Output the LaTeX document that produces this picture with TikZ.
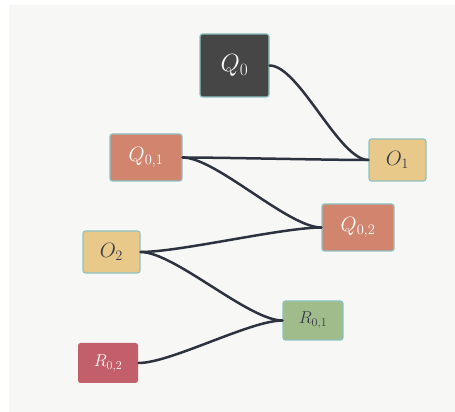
\documentclass[tikz,border=0pt]{standalone}
\usepackage{amsmath}
\definecolor{bgpaper}{HTML}{F7F7F5}
\definecolor{edgeteal}{HTML}{8EC2C2}
\definecolor{qdark}{HTML}{464646}
\definecolor{qsalmon}{HTML}{D1856F}
\definecolor{oyellow}{HTML}{E9C98A}
\definecolor{rgreen}{HTML}{A1BC8B}
\definecolor{rred}{HTML}{C25F6A}
\definecolor{wire}{HTML}{2D3240}
\definecolor{inkdark}{HTML}{3A3A48}
\tikzset{
  box/.style={draw=edgeteal,line width=1.2pt,rounded corners=2.5pt,inner sep=0pt,anchor=center},
  rootbox/.style={box,fill=qdark,text=white,minimum width=69pt,minimum height=63pt,font=\fontsize{26}{28}\selectfont},
  qbox/.style={box,fill=qsalmon,text=white,minimum width=72pt,minimum height=47pt,font=\fontsize{21}{23}\selectfont},
  obox/.style={box,fill=oyellow,text=inkdark,minimum width=57pt,minimum height=42pt,font=\fontsize{20}{22}\selectfont},
  rbox/.style={box,minimum width=60pt,minimum height=39pt,font=\fontsize{18}{20}\selectfont},
  link/.style={draw=wire,line width=2.5pt,line cap=round,looseness=0.55}
}
\begin{document}
\begin{tikzpicture}[x=1pt,y=1pt]
    \useasboundingbox (0,0) rectangle (455,412);
    \fill[bgpaper] (9,0) rectangle (455,407);
    % nodes
    \node[rootbox] (q0) at (234.5,346.5) {$Q_0$};
    \node[qbox] (q01) at (146,254.5) {$Q_{0,1}$};
    \node[obox] (o1) at (397.5,252) {$O_1$};
    \node[qbox] (q02) at (358,184.5) {$Q_{0,2}$};
    \node[obox] (o2) at (111.5,160) {$O_2$};
    \node[rbox,fill=rgreen,text=inkdark] (r01) at (313,91.5) {$R_{0,1}$};
    \node[rbox,draw=none,fill=rred,text=white,minimum height=40pt] (r02) at (108,49) {$R_{0,2}$};
    % links
    \draw[link] (q0.east) to[out=0,in=180] (o1.west);
    \draw[link] (q01.east) to[out=0,in=180] (o1.west);
    \draw[link] (q01.east) to[out=0,in=180] (q02.west);
    \draw[link] (o2.east) to[out=0,in=180] (q02.west);
    \draw[link] (o2.east) to[out=0,in=180] (r01.west);
    \draw[link] (r02.east) to[out=0,in=180] (r01.west);
\end{tikzpicture}
\end{document}
